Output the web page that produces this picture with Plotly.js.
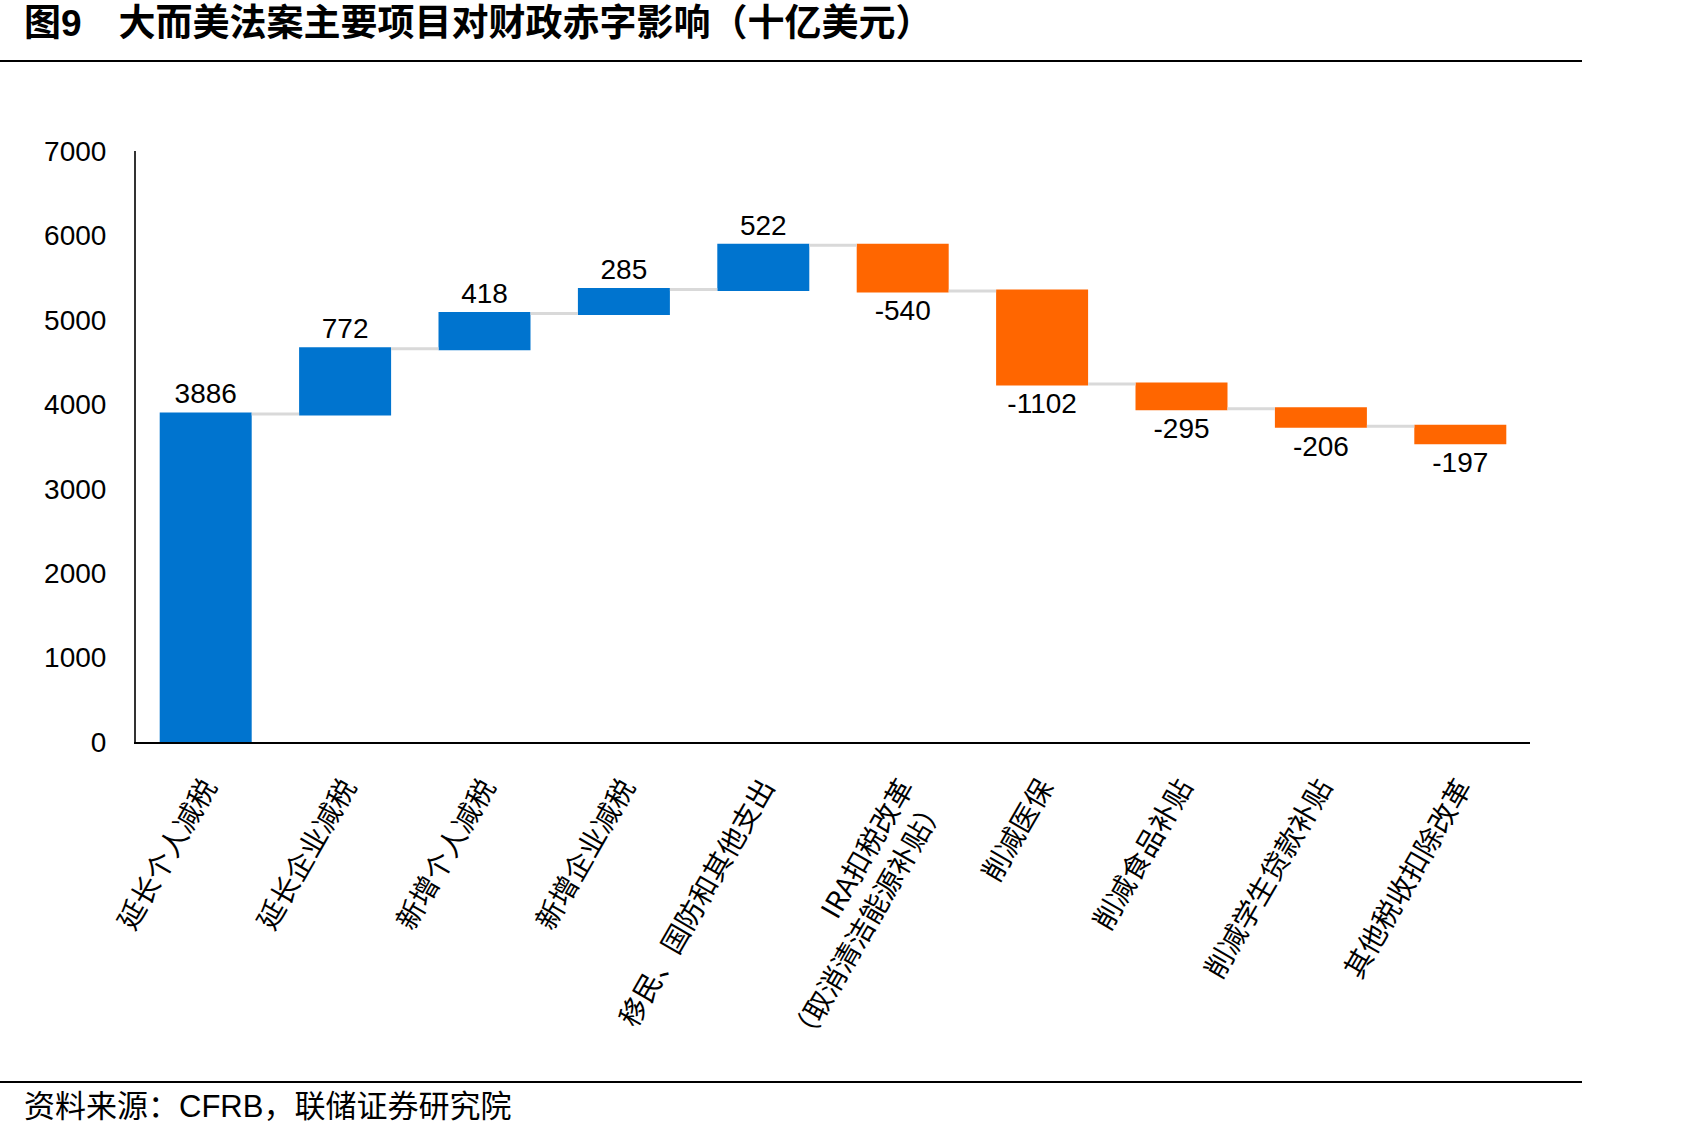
<!DOCTYPE html>
<html>
<head>
<meta charset="utf-8">
<script src="https://cdn.plot.ly/plotly-3.0.1.min.js"></script>
<style>html,body{margin:0;padding:0;background:#fff;}</style>
</head>
<body>
<div id="chart" style="width:1701px;height:1137px;"></div>
<script>
const categories = [
  '延长个人减税',
  '延长企业减税',
  '新增个人减税',
  '新增企业减税',
  '移民、国防和其他支出',
  'IRA扣税改革<br>（取消清洁能源补贴）',
  '削减医保',
  '削减食品补贴',
  '削减学生贷款补贴',
  '其他税收扣除改革'
];
const values = [3886, 772, 418, 285, 522, -540, -1102, -295, -206, -197];
const valueLabels = ['3886', '772', '418', '285', '522', '-540', '-1102', '-295', '-206', '-197'];
const yTicks = [0, 1000, 2000, 3000, 4000, 5000, 6000, 7000];

const W = 1701, H = 1137;
const L = 136, R = 1530, T = 151, B = 742;
const px = x => (x - L) / (R - L);
const py = y => (B - y) / (B - T);

const trace = {
  type: 'waterfall',
  x: categories,
  y: values,
  measure: values.map(() => 'relative'),
  base: 0,
  text: valueLabels,
  textposition: 'outside',
  textfont: {family: 'Liberation Sans, Arial, sans-serif', size: 28, color: '#000'},
  cliponaxis: false,
  increasing: {marker: {color: '#0074CF'}},
  decreasing: {marker: {color: '#FF6600'}},
  connector: {mode: 'between', line: {color: '#D9D9D9', width: 3}},
  hoverinfo: 'none'
};

const layout = {
  width: W, height: H,
  margin: {l: L, r: W - R, t: T, b: H - B, pad: 0},
  paper_bgcolor: '#fff', plot_bgcolor: '#fff',
  showlegend: false,
  waterfallgap: 0.34,
  xaxis: {
    type: 'category',
    range: [-0.5, 9.5],
    showline: true, linecolor: '#000', linewidth: 2,
    showgrid: false, zeroline: false,
    ticks: '',
    tickangle: -60,
    ticklabelstandoff: 16,
    tickfont: {family: 'Noto Sans CJK SC, sans-serif', size: 28, color: '#000'}
  },
  yaxis: {
    range: [0, 7000],
    tickvals: yTicks,
    ticktext: yTicks.map(String),
    showline: true, linecolor: '#333', linewidth: 2,
    showgrid: false, zeroline: false,
    ticks: '',
    ticklabelstandoff: 22,
    tickfont: {family: 'Liberation Sans, Arial, sans-serif', size: 28, color: '#000'}
  },
  shapes: [
    {type: 'line', xref: 'paper', yref: 'paper', x0: px(0), x1: px(1582), y0: py(61), y1: py(61), line: {color: '#000', width: 2}},
    {type: 'line', xref: 'paper', yref: 'paper', x0: px(0), x1: px(1582), y0: py(1082), y1: py(1082), line: {color: '#000', width: 2}}
  ],
  annotations: [
    {xref: 'paper', yref: 'paper', x: px(22), y: py(23), xanchor: 'left', yanchor: 'middle', showarrow: false,
     text: '<b>图9　大而美法案主要项目对财政赤字影响（十亿美元）</b>',
     font: {family: 'Liberation Sans, Noto Sans CJK SC, sans-serif', size: 37, color: '#000'}},
    {xref: 'paper', yref: 'paper', x: px(22), y: py(1106), xanchor: 'left', yanchor: 'middle', showarrow: false,
     text: '资料来源：CFRB，联储证券研究院',
     font: {family: 'Liberation Sans, Noto Sans CJK SC, sans-serif', size: 31, color: '#000'}}
  ]
};

Plotly.newPlot('chart', [trace], layout, {staticPlot: true, displayModeBar: false});
</script>
</body>
</html>
